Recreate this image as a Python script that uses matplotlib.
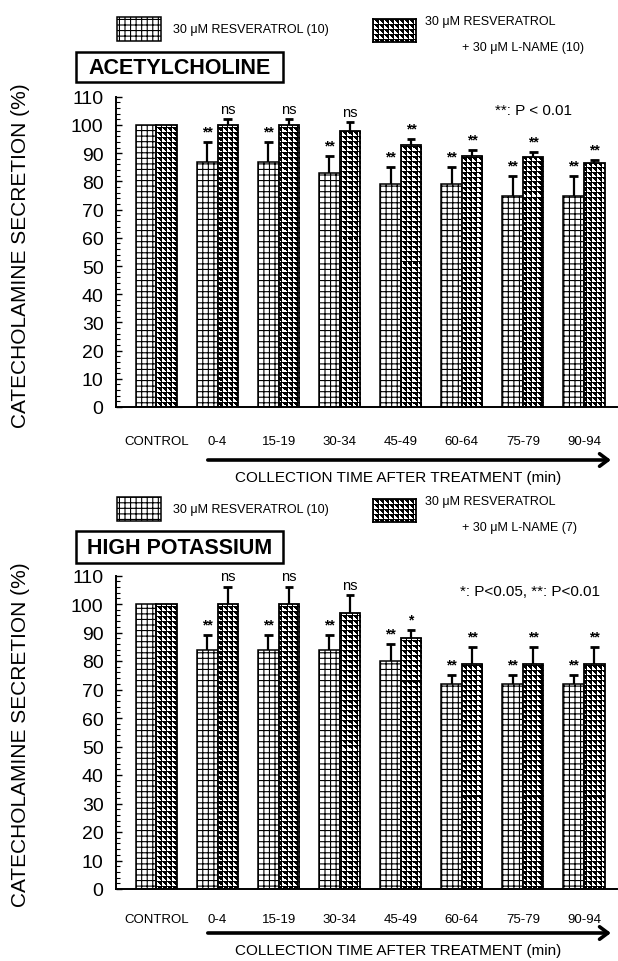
import numpy as np
import matplotlib
matplotlib.use("Agg")
import matplotlib.pyplot as plt
from matplotlib.patches import Rectangle
from matplotlib.transforms import ScaledTranslation

plt.rcParams["font.family"] = ["Liberation Sans", "DejaVu Sans"]
plt.rcParams["hatch.linewidth"] = 0.8

# ---- data -------------------------------------------------------------
groups = ["CONTROL", "0-4", "15-19", "30-34", "45-49", "60-64", "75-79", "90-94"]

ach_resv = [100, 87, 87, 83, 79, 79, 75, 75]
ach_resv_sem = [0, 7, 7, 6, 6, 6, 7, 7]
ach_lname = [100, 100, 100, 98, 93, 89, 88.5, 86.5]
ach_lname_sem = [0, 2, 2, 3, 2, 2, 2, 1]
ach_resv_sig = ["", "**", "**", "**", "**", "**", "**", "**"]
ach_lname_sig = ["", "ns", "ns", "ns", "**", "**", "**", "**"]

hk_resv = [100, 84, 84, 84, 80, 72, 72, 72]
hk_resv_sem = [0, 5, 5, 5, 6, 3, 3, 3]
hk_lname = [100, 100, 100, 97, 88, 79, 79, 79]
hk_lname_sem = [0, 6, 6, 6, 3, 6, 6, 6]
hk_resv_sig = ["", "**", "**", "**", "**", "**", "**", "**"]
hk_lname_sig = ["", "ns", "ns", "ns", "*", "**", "**", "**"]

W_PX, H_PX = 618, 962
fig = plt.figure(figsize=(W_PX / 100, H_PX / 100), dpi=100)


def fx(x):
    return x / W_PX


def fy(y):
    return 1 - y / H_PX


def tri_texture(h, w, period=5):
    """Black cells with a white triangle, on a regular pixel grid."""
    yy, xx = np.mgrid[0:h, 0:w]
    r = yy % period
    c = xx % period
    white = (c > 0) & (r >= c)
    img = np.zeros((h, w, 3))
    img[white] = 1.0
    return img


BAR_W = 0.336
XLIM = (-0.663, 7.54)


def panel(ax_box, resv, resv_sem, lname, lname_sem, resv_sig, lname_sig,
          label_pad, arrow_dy, text_dy):
    left, bottom_px, right, top_px = ax_box
    ax = fig.add_axes([fx(left), fy(bottom_px), fx(right) - fx(left),
                       fy(top_px) - fy(bottom_px)])
    x = np.arange(len(groups))
    resv = np.asarray(resv, float)
    lname = np.asarray(lname, float)
    resv_sem = np.asarray(resv_sem, float)
    lname_sem = np.asarray(lname_sem, float)

    ax.set_xlim(*XLIM)
    ax.set_ylim(0, 110)

    ax.bar(x - BAR_W / 2, resv, BAR_W, facecolor="white", edgecolor="black",
           hatch="+++", linewidth=1.1, zorder=2)
    rbars = ax.bar(x + BAR_W / 2, lname, BAR_W, facecolor="none",
                   edgecolor="black", linewidth=1.3, zorder=3)

    bb = ax.get_window_extent()
    tex = tri_texture(int(round(bb.height)), int(round(bb.width)))
    for b in rbars:
        im = ax.imshow(tex, extent=(XLIM[0], XLIM[1], 0, 110), origin="upper",
                       aspect="auto", interpolation="nearest", zorder=2)
        im.set_clip_path(b)
    ax.set_xlim(*XLIM)
    ax.set_ylim(0, 110)

    # upper error bars
    cap = 0.072
    for xs, vals, sems, sig in ((x - BAR_W / 2, resv, resv_sem, resv_sig),
                                (x + BAR_W / 2, lname, lname_sem, lname_sig)):
        for xi, v, s, lab in zip(xs, vals, sems, sig):
            if s <= 0:
                continue
            ax.vlines(xi, v, v + s, color="black", lw=1.6, zorder=4)
            ax.hlines(v + s, xi - cap, xi + cap, color="black", lw=2.0, zorder=4)
            if lab:
                ax.annotate(lab, xy=(xi, v + s), xytext=(0, 2.5),
                            textcoords="offset points", ha="center", va="bottom",
                            fontsize=10.5 if lab == "ns" else 10,
                            fontweight="bold" if "*" in lab else "normal")

    for side in ("top", "right"):
        ax.spines[side].set_visible(False)
    ax.spines["left"].set_linewidth(1.4)
    ax.spines["bottom"].set_linewidth(1.4)

    ax.set_yticks(np.arange(0, 111, 10))
    ax.set_yticks(np.arange(0, 111, 2), minor=True)
    ax.tick_params(axis="y", which="major", direction="in", length=4.5,
                   width=1.0, labelsize=14, pad=9)
    ax.tick_params(axis="y", which="minor", direction="in", length=3,
                   width=0.8)
    ax.set_xticks(x, groups)
    ax.tick_params(axis="x", length=0, labelsize=9.5, pad=label_pad)

    # time arrow under the treatment groups
    trans = ax.get_xaxis_transform() + ScaledTranslation(
        0, -arrow_dy / 100, fig.dpi_scale_trans)
    ax.annotate("", xy=(7.44, 0), xycoords=trans, xytext=(0.84, 0),
                textcoords=trans,
                arrowprops=dict(arrowstyle="->,head_length=0.6,head_width=0.45",
                                lw=2.6, color="black", shrinkA=0, shrinkB=0),
                annotation_clip=False)
    ttrans = ax.get_xaxis_transform() + ScaledTranslation(
        0, -text_dy / 100, fig.dpi_scale_trans)
    ax.text(3.95, 0, "COLLECTION TIME AFTER TREATMENT (min)", transform=ttrans,
            ha="center", va="center", fontsize=11)
    return ax


def legend(y_box, n_lname):
    fig.add_artist(Rectangle((fx(117), fy(y_box + 24)), fx(161) - fx(117),
                             fy(y_box) - fy(y_box + 24), transform=fig.transFigure,
                             facecolor="white", edgecolor="black", hatch="+++",
                             linewidth=1.1))
    fig.text(fx(173), fy(y_box + 12.5), "30 μM RESVERATROL (10)",
             ha="left", va="center", fontsize=9)
    lax = fig.add_axes([fx(373), fy(y_box + 25), fx(416) - fx(373),
                        fy(y_box + 2) - fy(y_box + 25)])
    bb = lax.get_window_extent()
    lax.imshow(tri_texture(int(round(bb.height)), int(round(bb.width))),
               aspect="auto", interpolation="nearest")
    lax.set_xticks([])
    lax.set_yticks([])
    for s in lax.spines.values():
        s.set_linewidth(1.3)
    fig.text(fx(425), fy(y_box + 4), "30 μM RESVERATROL",
             ha="left", va="center", fontsize=9)
    fig.text(fx(462), fy(y_box + 30), f"+ 30 μM L-NAME ({n_lname})",
             ha="left", va="center", fontsize=9)


def title_box(y0, y1, label):
    fig.add_artist(Rectangle((fx(76), fy(y1)), fx(283) - fx(76), fy(y0) - fy(y1),
                             transform=fig.transFigure, facecolor="white",
                             edgecolor="black", linewidth=1.8))
    fig.text(fx(179.5), fy((y0 + y1) / 2), label, ha="center", va="center",
             fontsize=15.5, fontweight="bold")


# ---- top panel: acetylcholine -----------------------------------------
legend(18, 10)
title_box(53, 83, "ACETYLCHOLINE")
panel((116, 408, 617, 97.8), ach_resv, ach_resv_sem, ach_lname, ach_lname_sem,
      ach_resv_sig, ach_lname_sig, label_pad=20, arrow_dy=53, text_dy=70)
fig.text(fx(495), fy(111), "**: P < 0.01", ha="left", va="center", fontsize=11)
fig.text(fx(21), fy(256), "CATECHOLAMINE SECRETION (%)", rotation=90,
         ha="center", va="center", fontsize=15)

# ---- bottom panel: high potassium -------------------------------------
legend(498, 7)
title_box(532, 564, "HIGH POTASSIUM")
panel((116, 890, 617, 576.5), hk_resv, hk_resv_sem, hk_lname, hk_lname_sem,
      hk_resv_sig, hk_lname_sig, label_pad=17, arrow_dy=44, text_dy=61)
fig.text(fx(460), fy(592), "*: P<0.05, **: P<0.01", ha="left", va="center",
         fontsize=11)
fig.text(fx(21), fy(735), "CATECHOLAMINE SECRETION (%)", rotation=90,
         ha="center", va="center", fontsize=15)

fig.savefig("out.png", dpi=100)
